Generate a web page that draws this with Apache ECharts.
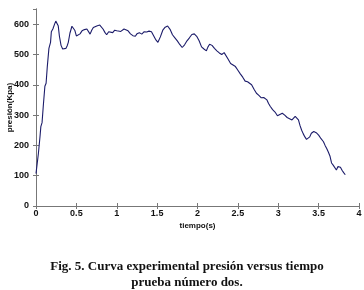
<!DOCTYPE html>
<html>
<head>
<meta charset="utf-8">
<script src="https://cdn.jsdelivr.net/npm/echarts@6/dist/echarts.min.js"></script>
<style>
html,body{margin:0;padding:0;background:#fff;}
#c{width:364px;height:290px;}
</style>
</head>
<body>
<div id="c"></div>
<script>
const times = [0.00,0.008,0.015,0.03,0.05,0.06,0.075,0.09,0.11,0.125,0.14,0.16,0.18,0.19,0.21,0.23,0.245,0.26,0.275,0.29,0.31,0.33,0.35,0.37,0.385,0.40,0.42,0.445,0.465,0.48,0.50,0.52,0.545,0.57,0.60,0.63,0.65,0.67,0.69,0.71,0.73,0.76,0.79,0.81,0.83,0.855,0.875,0.90,0.92,0.95,0.975,1.00,1.02,1.05,1.07,1.09,1.11,1.14,1.17,1.20,1.23,1.25,1.28,1.31,1.34,1.37,1.40,1.43,1.45,1.48,1.51,1.54,1.57,1.60,1.63,1.66,1.69,1.72,1.75,1.78,1.81,1.84,1.87,1.90,1.93,1.96,1.99,2.02,2.05,2.08,2.11,2.13,2.15,2.18,2.21,2.24,2.27,2.30,2.33,2.35,2.38,2.41,2.44,2.47,2.50,2.53,2.56,2.59,2.62,2.64,2.67,2.70,2.73,2.76,2.79,2.82,2.84,2.86,2.88,2.90,2.93,2.96,2.99,3.02,3.05,3.08,3.11,3.14,3.17,3.19,3.21,3.23,3.25,3.27,3.29,3.31,3.33,3.35,3.37,3.39,3.41,3.44,3.47,3.50,3.53,3.56,3.58,3.60,3.62,3.64,3.66,3.68,3.70,3.72,3.74,3.76,3.77,3.79,3.81,3.83];
const pressures = [107,125,120,174,230,262,275,329,395,405,460,520,540,575,585,600,610,611,595,560,530,518,522,520,528,540,570,593,588,580,561,565,568,578,582,584,580,567,580,589,594,595,597,592,584,572,565,575,578,572,580,578,572,576,572,584,586,578,568,562,560,568,572,567,575,574,577,575,565,550,540,558,580,590,594,583,565,555,545,533,523,532,545,555,566,568,560,545,525,518,512,525,534,530,520,512,505,500,506,500,484,470,465,460,448,436,425,412,410,414,400,385,372,365,357,358,360,350,338,329,318,310,298,302,306,300,292,288,284,290,296,292,284,265,250,238,228,220,218,228,240,246,242,234,222,212,200,190,178,165,142,135,130,119,130,132,128,118,110,103];
const xTicks = [0,0.5,1,1.5,2,2.5,3,3.5,4];
const yTicks = [0,100,200,300,400,500,600];
const xLabel = 'tiempo(s)';
const yLabel = 'presión(Kpa)';
const caption1 = 'Fig. 5. Curva experimental presión versus tiempo';
const caption2 = 'prueba número dos.';

const chart = echarts.init(document.getElementById('c'), null, {renderer:'canvas'});
const lineCol = '#777';
const tickFont = {color:'#111', fontFamily:'Liberation Sans, Arial, sans-serif', fontWeight:'bold', fontSize:9};
const data = times.map((t,i)=>[t, pressures[i]]);
chart.setOption({
  animation:false,
  backgroundColor:'#fff',
  title:[
    {text:caption1, left:182, top:255, textAlign:'center',
     textStyle:{fontFamily:'Liberation Serif, Times New Roman, serif', fontWeight:'bold', fontSize:13, color:'#111'}},
    {text:caption2, left:182, top:271, textAlign:'center',
     textStyle:{fontFamily:'Liberation Serif, Times New Roman, serif', fontWeight:'bold', fontSize:13, color:'#111'}}
  ],
  grid:{left:36, right:5, top:9, bottom:84, containLabel:false, outerBoundsMode:'none'},
  xAxis:[
    {type:'value', min:0, max:4, interval:0.5, position:'bottom',
     name:xLabel, nameLocation:'middle', nameGap:16, nameMoveOverlap:false,
     nameTextStyle:{color:'#111', fontFamily:'Liberation Sans, Arial, sans-serif', fontWeight:'bold', fontSize:8},
     axisLine:{show:true, lineStyle:{color:lineCol, width:1}},
     axisTick:{show:true, inside:true, length:3, lineStyle:{color:lineCol}},
     axisLabel:{...tickFont, margin:3, formatter:v=>xTicks.includes(v)?String(v):''},
     splitLine:{show:false}},
    {type:'value', min:0, max:4, interval:0.5, position:'top',
     axisLine:{show:true, lineStyle:{color:lineCol, width:1}},
     axisTick:{show:true, inside:true, length:3, lineStyle:{color:lineCol}},
     axisLabel:{show:false}, splitLine:{show:false}}
  ],
  yAxis:[
    {type:'value', min:0, max:650, interval:100, position:'left',
     name:yLabel, nameLocation:'middle', nameGap:22, nameRotate:90, nameMoveOverlap:false,
     nameTextStyle:{color:'#111', fontFamily:'Liberation Sans, Arial, sans-serif', fontWeight:'bold', fontSize:8},
     axisLine:{show:true, lineStyle:{color:lineCol, width:1}},
     axisTick:{show:true, inside:true, length:3, lineStyle:{color:lineCol}},
     axisLabel:{...tickFont, margin:7, showMaxLabel:false, formatter:v=>yTicks.includes(v)?String(v):''},
     splitLine:{show:false}},
    {type:'value', min:0, max:650, interval:100, position:'right',
     axisLine:{show:true, lineStyle:{color:lineCol, width:1}},
     axisTick:{show:true, inside:true, length:3, lineStyle:{color:lineCol}},
     axisLabel:{show:false}, splitLine:{show:false}}
  ],
  series:[{
    type:'line', data:data, xAxisIndex:0, yAxisIndex:0,
    showSymbol:false, symbol:'none', smooth:false,
    lineStyle:{color:'#1c1c6a', width:1.1}
  }]
});
</script>
</body>
</html>
